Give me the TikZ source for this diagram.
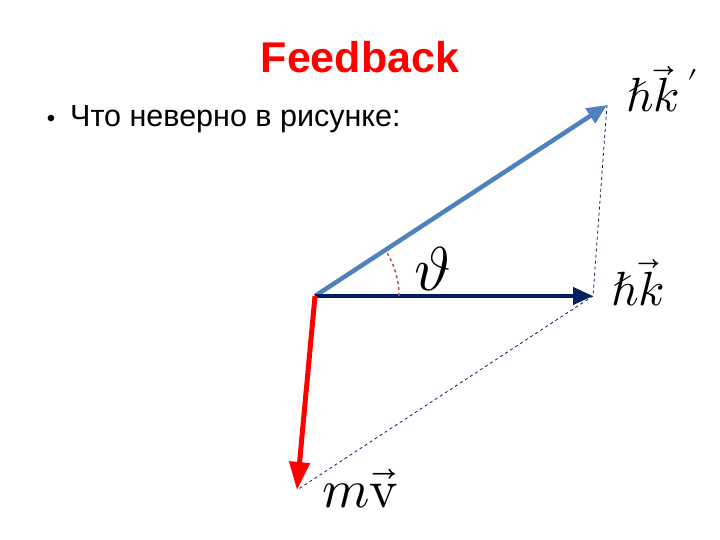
\documentclass[tikz,border=0pt]{standalone}
\usepackage{fontspec}
\usepackage{unicode-math}
\setmainfont{Liberation Sans}
\usetikzlibrary{arrows.meta, calc}
\definecolor{lightblue}{RGB}{79,129,189}
\definecolor{navy}{RGB}{0,32,96}
\definecolor{arcred}{RGB}{192,80,77}
\tikzset{
  vec/.style={line width=4.5pt, -{Triangle[length=20pt, width=17pt]}},
  help/.style={navy, dashed, line width=0.8pt},
  lbl/.style={anchor=base west, inner sep=0pt, font=\fontsize{48}{52}\selectfont}
}
\begin{document}
\begin{tikzpicture}[x=1pt, y=-1pt]
    \useasboundingbox (0,0) rectangle (720,540);

    \coordinate (o) at (315, 296);
    \coordinate (kp) at (607, 105);
    \coordinate (k) at (593, 296);
    \coordinate (mv) at (297, 490);

    \draw [help] (kp) -- (k);
    \draw [help] (k) -- (mv);

    \draw [vec, lightblue] (o) -- (kp);
    \draw [vec, navy, line width=4pt] (o) -- (k);
    \draw [vec, red, line width=5pt, -{Triangle[length=28pt, width=20pt]}] (o) -- (mv);

    \draw [arcred, dashed, line width=1.5pt] ($(o)+(84,0)$) arc [start angle=0, end angle=-33, radius=84];

    \node [anchor=base, text=red, inner sep=0pt, font=\fontsize{43}{47}\selectfont\bfseries] (title) at (360, 73) {Feedback};
    \node [anchor=base, inner sep=0pt, font=\fontsize{24}{28}\selectfont] (dot) at (51, 127) {•};
    \node [anchor=base west, inner sep=0pt, font=\fontsize{30.5}{34}\selectfont] (task) at (70, 127) {Что неверно в рисунке:};

    \node [lbl] (kplabel) at (626, 112) {$\hbar\vec{k}\,'$};
    \node [lbl] (klabel) at (611, 305) {$\hbar\vec{k}$};
    \node [lbl, font=\fontsize{62}{66}\selectfont] (theta) at (414, 290) {$\vartheta$};
    \node [lbl, font=\fontsize{54}{58}\selectfont] (mvlabel) at (322, 507) {$m\vec{\symup{v}}$};
\end{tikzpicture}
\end{document}
